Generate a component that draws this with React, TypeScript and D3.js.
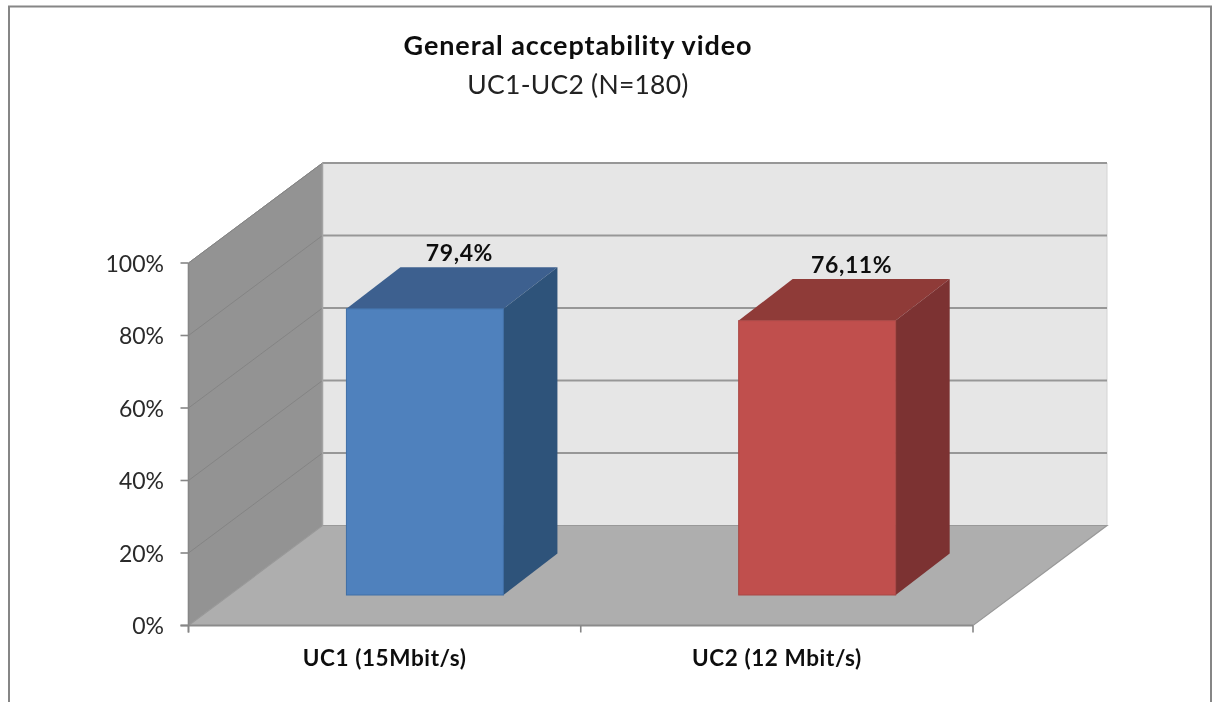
import React from "react";
import * as d3 from "d3";

const categories = ["UC1 (15Mbit/s)", "UC2 (12 Mbit/s)"];
const values = [79.4, 76.11];
const valueLabels = ["79,4%", "76,11%"];
const yTicks = [0, 20, 40, 60, 80, 100];
const titleMain = "General acceptability video";
const titleSub = "UC1-UC2 (N=180)";
const frontColors = ["#4f81bd", "#c0504d"];
const sideColors = ["#2f527a", "#7c3231"];
const topColors = ["#3c618f", "#8f3a39"];
const edgeColors = ["#3f6ea6", "#a84644"];

const FONT = "Lato, Carlito, 'Open Sans', sans-serif";
const W = 1213, H = 702;
const x0 = 188.5, x1 = 973, y0 = 625.5, y100 = 263;
const dx = 134, dy = -100;
const barDx = 54, barDy = -41.5;
const barBase = 595;
const barShift = 40.3;

const y = d3.scaleLinear().domain([0, 100]).range([y0, y100]);
// bars stand further back in the box, so their vertical scale is slightly smaller
const barH = d3.scaleLinear().domain([0, 100]).range([0, 360.5]);
const x = d3.scaleBand<string>().domain(categories).range([x0, x1]).paddingInner(0).paddingOuter(0);
const pts = (p: [number, number][]) => p.map((d) => d.join(",")).join(" ");

export default function App() {
  const bw = x.bandwidth();
  const barW = 157;
  return (
    <svg width={W} height={H} style={{ position: "absolute", left: 0, top: 0, display: "block" }} fontFamily={FONT}>
      <defs>
        <filter id="soft" x="-2%" y="-2%" width="104%" height="104%">
          <feGaussianBlur stdDeviation="0.45" />
        </filter>
      </defs>
      <rect width={W} height={H} fill="#fff" />
      <g filter="url(#soft)">
        <path d={`M9,${H + 5}V6.5H1211V${H + 5}`} fill="none" stroke="#868686" strokeWidth={2} />

        {/* back wall */}
        <polygon
          points={pts([[x0 + dx, y(100) + dy], [x1 + dx, y(100) + dy], [x1 + dx, y0 + dy], [x0 + dx, y0 + dy]])}
          fill="#e6e6e6"
          stroke="#d4d4d4"
          strokeWidth={1}
        />
        {/* side wall */}
        <polygon
          points={pts([[x0, y(100)], [x0 + dx, y(100) + dy], [x0 + dx, y0 + dy], [x0, y0]])}
          fill="#939393"
          stroke="#8a8a8a"
          strokeWidth={1}
        />
        {/* floor */}
        <polygon
          points={pts([[x0, y0], [x1, y0], [x1 + dx, y0 + dy], [x0 + dx, y0 + dy]])}
          fill="#aeaeae"
          stroke="#999"
          strokeWidth={1.2}
        />
        {/* gridlines */}
        {yTicks.filter((t) => t > 0).map((t) => (
          <g key={t}>
            <line x1={x0 + dx} x2={x1 + dx} y1={y(t) + dy} y2={y(t) + dy} stroke="#979797" strokeWidth={1.8} />
            <line x1={x0} x2={x0 + dx} y1={y(t)} y2={y(t) + dy} stroke="#848484" strokeWidth={1} />
          </g>
        ))}
        <line x1={x0 + dx} x2={x0 + dx} y1={y(100) + dy} y2={y0 + dy} stroke="#a3a3a3" strokeWidth={1.5} />

        {/* axes */}
        <line x1={x0} x2={x0} y1={y(100)} y2={y0 + 7} stroke="#868686" strokeWidth={1.6} />
        <line x1={x0 - 8} x2={x1} y1={y0} y2={y0} stroke="#8b8b8b" strokeWidth={1.8} />
        {yTicks.map((t) => (
          <line key={t} x1={x0 - 8} x2={x0} y1={y(t)} y2={y(t)} stroke="#868686" strokeWidth={1.6} />
        ))}
        {[x0, x0 + bw, x1].map((d, i) => (
          <line key={i} x1={d} x2={d} y1={y0} y2={y0 + 7} stroke="#868686" strokeWidth={1.6} />
        ))}

        {/* bars */}
        {categories.map((c, i) => {
          const left = (x(c) as number) + (bw - barW) / 2 + barShift;
          const right = left + barW;
          const h = barH(values[i]);
          const top = barBase - h;
          return (
            <g key={c}>
              <polygon
                points={pts([[left, top], [right, top], [right + barDx, top + barDy], [left + barDx, top + barDy]])}
                fill={topColors[i]}
              />
              <polygon
                points={pts([[right, top], [right + barDx, top + barDy], [right + barDx, barBase + barDy], [right, barBase]])}
                fill={sideColors[i]}
              />
              <rect x={left} y={top} width={barW} height={h} fill={frontColors[i]} stroke={edgeColors[i]} strokeWidth={1} />
              <text
                x={left + 113}
                y={top + barDy - 6}
                textAnchor="middle"
                fontSize={23}
                fontWeight={700}
                letterSpacing={0.6}
                fill="#111"
              >
                {valueLabels[i]}
              </text>
            </g>
          );
        })}

        {/* labels */}
        {yTicks.map((t) => (
          <text key={t} x={164} y={y(t) + 8.5} textAnchor="end" fontSize={23} fill="#2a2a2a">
            {t}%
          </text>
        ))}
        {categories.map((c) => (
          <text
            key={c}
            x={(x(c) as number) + bw / 2}
            y={666}
            textAnchor="middle"
            fontSize={22.5}
            fontWeight={700}
            letterSpacing={0.6}
            fill="#111"
          >
            {c}
          </text>
        ))}
        <text x={578} y={55} textAnchor="middle" fontSize={27} fontWeight={700} letterSpacing={0.9} fill="#111">
          {titleMain}
        </text>
        <text x={578} y={94} textAnchor="middle" fontSize={26.5} letterSpacing={0.25} fill="#222">
          {titleSub}
        </text>
      </g>
    </svg>
  );
}
